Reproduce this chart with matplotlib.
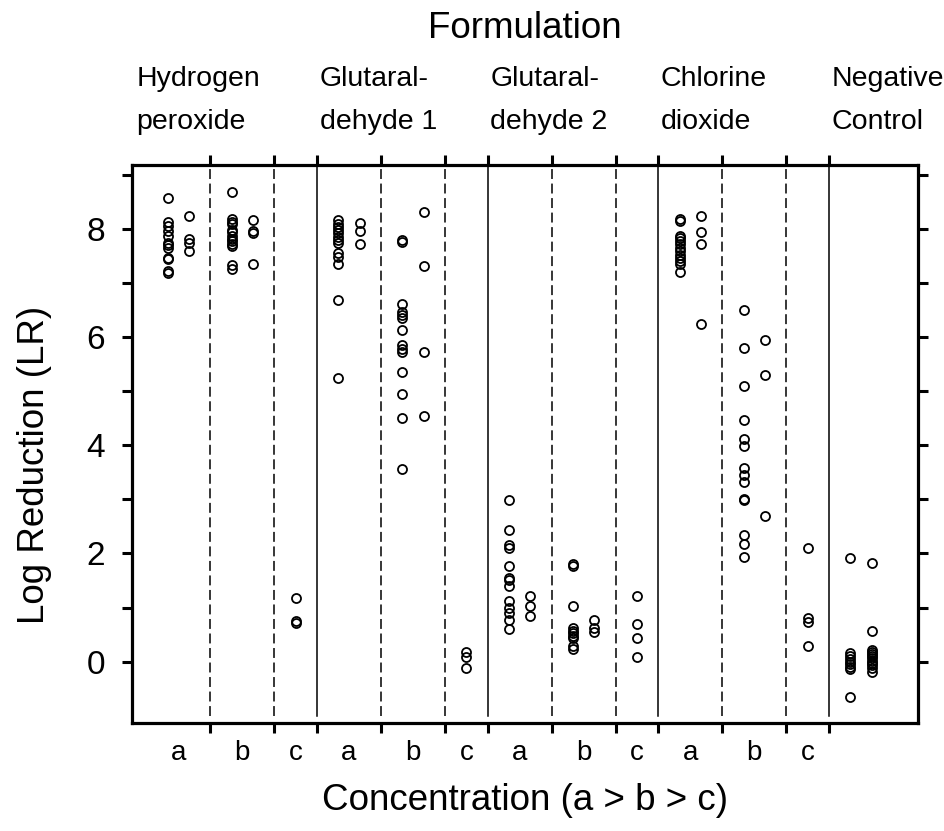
import matplotlib
matplotlib.use("Agg")
import matplotlib.pyplot as plt
import matplotlib.transforms as mtransforms
from matplotlib.ticker import FixedLocator, NullFormatter, FixedFormatter

plt.rcParams['font.family'] = ['Liberation Sans', 'DejaVu Sans']

# Log reduction values, two replicate columns per concentration (c has one)
hp_a1 = [8.58, 8.14, 8.06, 7.96, 7.87, 7.75, 7.70, 7.65, 7.47, 7.44, 7.22, 7.18]
hp_a2 = [8.25, 7.81, 7.75, 7.59]
hp_b1 = [8.69, 8.18, 8.13, 8.09, 7.99, 7.94, 7.87, 7.82, 7.78, 7.72, 7.69, 7.33, 7.26]
hp_b2 = [8.17, 7.96, 7.92, 7.36]
hp_c1 = [1.17, 0.75, 0.72]

g1_a1 = [8.17, 8.10, 8.04, 7.98, 7.92, 7.86, 7.80, 7.75, 7.56, 7.49, 7.35, 6.69, 5.25]
g1_a2 = [8.12, 7.96, 7.73]
g1_b1 = [7.80, 7.76, 6.62, 6.46, 6.42, 6.36, 6.14, 5.85, 5.78, 5.73, 5.36, 4.95, 4.51, 3.57]
g1_b2 = [8.32, 7.31, 5.72, 4.54]
g1_c1 = [0.17, 0.08, -0.12]

g2_a1 = [2.99, 2.43, 2.16, 2.10, 1.76, 1.54, 1.51, 1.39, 1.13, 0.99, 0.90, 0.77, 0.61]
g2_a2 = [1.21, 1.03, 0.84]
g2_b1 = [1.80, 1.76, 1.03, 0.62, 0.57, 0.53, 0.48, 0.43, 0.28, 0.24]
g2_b2 = [0.77, 0.62, 0.54]
g2_c1 = [1.21, 0.69, 0.43, 0.09]

cd_a1 = [8.18, 8.15, 7.87, 7.84, 7.78, 7.72, 7.65, 7.59, 7.53, 7.47, 7.41, 7.35, 7.20]
cd_a2 = [8.24, 7.95, 7.72, 6.25]
cd_b1 = [6.50, 5.80, 5.09, 4.47, 4.11, 3.98, 3.58, 3.46, 3.32, 3.00, 2.98, 2.35, 2.17, 1.94]
cd_b2 = [5.94, 5.31, 2.69]
cd_c1 = [2.10, 0.80, 0.73, 0.28]

nc_1 = [1.91, 0.15, 0.10, 0.05, 0.0, -0.05, -0.10, -0.13, -0.65]
nc_2 = [1.83, 0.57, 0.22, 0.18, 0.14, 0.10, 0.06, 0.02, -0.02, -0.06, -0.12, -0.20]

formulations = ["Hydrogen\nperoxide", "Glutaral-\ndehyde 1", "Glutaral-\ndehyde 2",
                "Chlorine\ndioxide", "Negative\nControl"]
concentrations = ["a", "b", "c"]

groups = [
    [[hp_a1, hp_a2], [hp_b1, hp_b2], [hp_c1]],
    [[g1_a1, g1_a2], [g1_b1, g1_b2], [g1_c1]],
    [[g2_a1, g2_a2], [g2_b1, g2_b2], [g2_c1]],
    [[cd_a1, cd_a2], [cd_b1, cd_b2], [cd_c1]],
    [[nc_1, nc_2]],
]

fig = plt.figure(figsize=(9.45, 8.31), dpi=100)
ax = fig.add_axes([0.1397, 0.1300, 0.8317, 0.6714])
xlo, xhi = -0.67, 36.17
ylo, yhi = -1.135, 9.185

x = 0
bounds = []
lab_pos, lab_txt = [], []
strip_x = []
for fi, slots in enumerate(groups):
    strip_x.append(x + 0.12 if x > 0 else xlo + 0.2)
    for ci, cols in enumerate(slots):
        start = x
        for k, vals in enumerate(cols):
            ax.plot([x + 1 + k] * len(vals), vals, 'o', ms=6.5, mfc='none',
                    mec='black', mew=1.3, clip_on=False)
        width = len(cols) + 1
        if len(slots) > 1:
            lab_pos.append(start + width / 2)
            lab_txt.append(concentrations[ci])
        x += width
        last_slot = ci == len(slots) - 1
        if fi == len(groups) - 1 and last_slot:
            continue
        bounds.append(x)
        if last_slot:
            ax.plot([x, x], [-1, yhi], '-', color='black', lw=1.1)
        else:
            ax.plot([x, x], [-1, yhi], color='black', lw=1.1, dashes=(6.5, 3.0))

ax.set_xlim(xlo, xhi)
ax.set_ylim(ylo, yhi)

ax.xaxis.set_major_locator(FixedLocator(bounds))
ax.xaxis.set_major_formatter(NullFormatter())
ax.xaxis.set_minor_locator(FixedLocator(lab_pos))
ax.xaxis.set_minor_formatter(FixedFormatter(lab_txt))
ax.tick_params(axis='x', which='major', direction='out', length=7.5, width=2.2,
               top=True, bottom=True)
ax.tick_params(axis='x', which='minor', length=0, pad=12, labelsize=20)

ax.set_yticks([0, 2, 4, 6, 8])
ax.yaxis.set_minor_locator(FixedLocator([1, 3, 5, 7, 9]))
ax.tick_params(axis='y', which='both', direction='out', length=7.5, width=2.2,
               left=True, right=True)
ax.tick_params(axis='y', which='major', labelsize=24, pad=12)

for sp in ax.spines.values():
    sp.set_linewidth(2.3)

# strip labels: x in data units, y in figure fraction
strip_tr = mtransforms.blended_transform_factory(ax.transData, fig.transFigure)
for sx, name in zip(strip_x, formulations):
    ax.text(sx, 0.8785, name, transform=strip_tr, ha='left', va='center',
            fontsize=20.5, linespacing=1.85, clip_on=False)

fig.text(0.5556, 0.9663, "Formulation", ha='center', va='center', fontsize=26.5)
fig.text(0.5556, 0.0373, "Concentration (a > b > c)", ha='center', va='center', fontsize=26.5)
fig.text(0.037, 0.4404, "Log Reduction (LR)", ha='center', va='center',
         rotation=90, fontsize=26.5)

fig.savefig("out.png", dpi=100)
